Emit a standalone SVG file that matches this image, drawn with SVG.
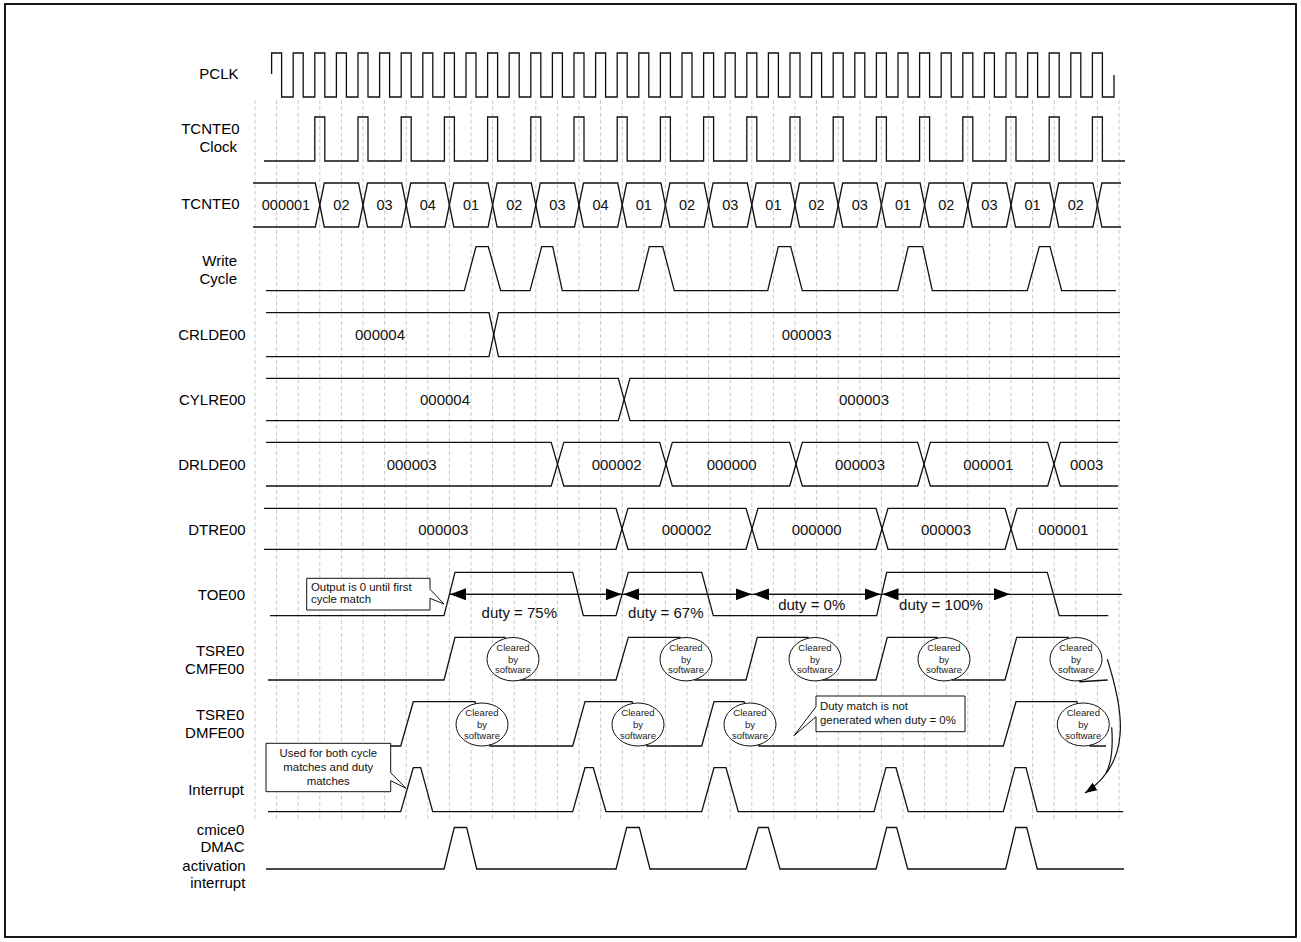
<svg xmlns="http://www.w3.org/2000/svg" width="1301" height="942" viewBox="0 0 1301 942">
<style>
.lbl{font-family:"Liberation Sans",Arial,sans-serif;font-size:15px;fill:#000;text-anchor:end}
.val{font-family:"Liberation Sans",Arial,sans-serif;font-size:15px;fill:#111;text-anchor:middle}
.cnt{font-family:"Liberation Sans",Arial,sans-serif;font-size:14.5px;fill:#111;text-anchor:middle}
.w{fill:none;stroke:#111;stroke-width:1.3;stroke-linejoin:miter}
.grid{fill:none;stroke:#bcbcbc;stroke-width:0.8;stroke-dasharray:4 2.5}
.ell{fill:#fff;stroke:#111;stroke-width:1}
.et{font-family:"Liberation Sans",Arial,sans-serif;font-size:9.5px;fill:#222;text-anchor:middle}
.co{fill:#fff;stroke:#111;stroke-width:1}
.ct{font-family:"Liberation Sans",Arial,sans-serif;font-size:11.4px;fill:#111}
.arr{fill:none;stroke:#111;stroke-width:1.2}
</style>
<defs>
<marker id="ah" viewBox="0 0 16 12" refX="16" refY="6" markerWidth="16" markerHeight="12" markerUnits="userSpaceOnUse" orient="auto-start-reverse"><path d="M0,0 L16,6 L0,12 Z" fill="#000"/></marker>
<marker id="ah2" viewBox="0 0 12 9" refX="12" refY="4.5" markerWidth="12" markerHeight="9" markerUnits="userSpaceOnUse" orient="auto"><path d="M0,0 L12,4.5 L0,9 Z" fill="#000"/></marker>
</defs>
<rect x="5" y="4" width="1291" height="933" fill="#fff" stroke="#000" stroke-width="1.8"/>
<g id="grid">
<path class="grid" d="M255,100V820M276.6,100V820M298.2,100V820M319.8,100V820M341.4,100V820M363,100V820M384.6,100V820M406.2,100V820M427.8,100V820M449.4,100V820M471,100V820M492.6,100V820M514.2,100V820M535.8,100V820M557.4,100V820M579,100V820M600.6,100V820M622.2,100V820M643.8,100V820M665.4,100V820M687,100V820M708.6,100V820M730.2,100V820M751.8,100V820M773.4,100V820M795,100V820M816.6,100V820M838.2,100V820M859.8,100V820M881.4,100V820M903,100V820M924.6,100V820M946.2,100V820M967.8,100V820M989.4,100V820M1011,100V820M1032.6,100V820M1054.2,100V820M1075.8,100V820M1097.4,100V820M1119,100V820"/>
</g>
<g id="pclk">
<text class="lbl" x="238.5" y="78.5">PCLK</text>
<path class="w" d="M271.6,74 V53 H281.6 V97 H293.2 V53 H303.2 V97 H314.8 V53 H324.8 V97 H336.4 V53 H346.4 V97 H358 V53 H368 V97 H379.6 V53 H389.6 V97 H401.2 V53 H411.2 V97 H422.8 V53 H432.8 V97 H444.4 V53 H454.4 V97 H466 V53 H476 V97 H487.6 V53 H497.6 V97 H509.2 V53 H519.2 V97 H530.8 V53 H540.8 V97 H552.4 V53 H562.4 V97 H574 V53 H584 V97 H595.6 V53 H605.6 V97 H617.2 V53 H627.2 V97 H638.8 V53 H648.8 V97 H660.4 V53 H670.4 V97 H682 V53 H692 V97 H703.6 V53 H713.6 V97 H725.2 V53 H735.2 V97 H746.8 V53 H756.8 V97 H768.4 V53 H778.4 V97 H790 V53 H800 V97 H811.6 V53 H821.6 V97 H833.2 V53 H843.2 V97 H854.8 V53 H864.8 V97 H876.4 V53 H886.4 V97 H898 V53 H908 V97 H919.6 V53 H929.6 V97 H941.2 V53 H951.2 V97 H962.8 V53 H972.8 V97 H984.4 V53 H994.4 V97 H1006 V53 H1016 V97 H1027.6 V53 H1037.6 V97 H1049.2 V53 H1059.2 V97 H1070.8 V53 H1080.8 V97 H1092.4 V53 H1102.4 V97 H1114 V75"/>
</g>
<g id="tcnte0-clock">
<text class="lbl" x="239.5" y="133.5">TCNTE0</text>
<text class="lbl" x="237" y="151.5">Clock</text>
<path class="w" d="M264,161 H314.8 V117 H324.8 V161 H358 V117 H368 V161 H401.2 V117 H411.2 V161 H444.4 V117 H454.4 V161 H487.6 V117 H497.6 V161 H530.8 V117 H540.8 V161 H574 V117 H584 V161 H617.2 V117 H627.2 V161 H660.4 V117 H670.4 V161 H703.6 V117 H713.6 V161 H746.8 V117 H756.8 V161 H790 V117 H800 V161 H833.2 V117 H843.2 V161 H876.4 V117 H886.4 V161 H919.6 V117 H929.6 V161 H962.8 V117 H972.8 V161 H1006 V117 H1016 V161 H1049.2 V117 H1059.2 V161 H1092.4 V117 H1102.4 V161 H1125"/>
</g>
<g id="tcnte0">
<text class="lbl" x="239.5" y="209">TCNTE0</text>
<path class="w" d="M253,183 H315.3 L324.3,227 H358.5 L367.5,183 H401.7 L410.7,227 H444.9 L453.9,183 H488.1 L497.1,227 H531.3 L540.3,183 H574.5 L583.5,227 H617.7 L626.7,183 H660.9 L669.9,227 H704.1 L713.1,183 H747.3 L756.3,227 H790.5 L799.5,183 H833.7 L842.7,227 H876.9 L885.9,183 H920.1 L929.1,227 H963.3 L972.3,183 H1006.5 L1015.5,227 H1049.7 L1058.7,183 H1092.9 L1101.9,227 H1121"/>
<path class="w" d="M253,227 H315.3 L324.3,183 H358.5 L367.5,227 H401.7 L410.7,183 H444.9 L453.9,227 H488.1 L497.1,183 H531.3 L540.3,227 H574.5 L583.5,183 H617.7 L626.7,227 H660.9 L669.9,183 H704.1 L713.1,227 H747.3 L756.3,183 H790.5 L799.5,227 H833.7 L842.7,183 H876.9 L885.9,227 H920.1 L929.1,183 H963.3 L972.3,227 H1006.5 L1015.5,183 H1049.7 L1058.7,227 H1092.9 L1101.9,183 H1121"/>
<text class="cnt" x="286" y="210">000001</text>
<text class="cnt" x="341.4" y="210">02</text>
<text class="cnt" x="384.6" y="210">03</text>
<text class="cnt" x="427.8" y="210">04</text>
<text class="cnt" x="471" y="210">01</text>
<text class="cnt" x="514.2" y="210">02</text>
<text class="cnt" x="557.4" y="210">03</text>
<text class="cnt" x="600.6" y="210">04</text>
<text class="cnt" x="643.8" y="210">01</text>
<text class="cnt" x="687" y="210">02</text>
<text class="cnt" x="730.2" y="210">03</text>
<text class="cnt" x="773.4" y="210">01</text>
<text class="cnt" x="816.6" y="210">02</text>
<text class="cnt" x="859.8" y="210">03</text>
<text class="cnt" x="903" y="210">01</text>
<text class="cnt" x="946.2" y="210">02</text>
<text class="cnt" x="989.4" y="210">03</text>
<text class="cnt" x="1032.6" y="210">01</text>
<text class="cnt" x="1075.8" y="210">02</text>
</g>
<g id="write-cycle">
<text class="lbl" x="237" y="265.5">Write</text>
<text class="lbl" x="237" y="283.5">Cycle</text>
<path class="w" d="M266,290.7 H464.3 L476,246.7 H488.3 L500.7,290.7 H530 L541.7,246.7 H552.7 L562.3,290.7 H638.3 L649.3,246.7 H662.7 L674.3,290.7 H767.7 L778.3,246.7 H790.7 L802.3,290.7 H897.7 L908.3,246.7 H922.7 L932.3,290.7 H1027.3 L1039.3,246.7 H1050 L1061.7,290.7 H1116"/>
</g>
<g id="crlde00">
<text class="lbl" x="245.7" y="340">CRLDE00</text>
<path class="w" d="M266,312.7 H489 L498.5,356.7 H1120"/>
<path class="w" d="M266,356.7 H489 L498.5,312.7 H1120"/>
<text class="val" x="380" y="340">000004</text>
<text class="val" x="806.7" y="340">000003</text>
</g>
<g id="cylre00">
<text class="lbl" x="245.7" y="405">CYLRE00</text>
<path class="w" d="M266,378.3 H618.3 L630,420.7 H1120"/>
<path class="w" d="M266,420.7 H618.3 L630,378.3 H1120"/>
<text class="val" x="445" y="405">000004</text>
<text class="val" x="864" y="405">000003</text>
</g>
<g id="drlde00">
<text class="lbl" x="245.7" y="469.5">DRLDE00</text>
<path class="w" d="M266,442.3 H551.2 L563.8,486 H659.7 L672.3,442.3 H789.7 L802.3,486 H917.7 L930.3,442.3 H1047.7 L1060.3,486 H1118"/>
<path class="w" d="M266,486 H551.2 L563.8,442.3 H659.7 L672.3,486 H789.7 L802.3,442.3 H917.7 L930.3,486 H1047.7 L1060.3,442.3 H1118"/>
<text class="val" x="411.7" y="469.5">000003</text>
<text class="val" x="616.7" y="469.5">000002</text>
<text class="val" x="731.7" y="469.5">000000</text>
<text class="val" x="860" y="469.5">000003</text>
<text class="val" x="988.3" y="469.5">000001</text>
<text class="val" x="1086.7" y="469.5">0003</text>
</g>
<g id="dtre00">
<text class="lbl" x="245.7" y="534.5">DTRE00</text>
<path class="w" d="M264,508.3 H616 L628,549.3 H746 L758,508.3 H876 L888,549.3 H1005 L1017,508.3 H1118"/>
<path class="w" d="M264,549.3 H616 L628,508.3 H746 L758,549.3 H876 L888,508.3 H1005 L1017,549.3 H1118"/>
<text class="val" x="443.3" y="534.5">000003</text>
<text class="val" x="686.7" y="534.5">000002</text>
<text class="val" x="816.7" y="534.5">000000</text>
<text class="val" x="946" y="534.5">000003</text>
<text class="val" x="1063.3" y="534.5">000001</text>
</g>
<g id="toe00">
<text class="lbl" x="245" y="599.5">TOE00</text>
<path class="w" d="M270,615.7 H444 L455,572.3 H572.7 L583.3,615.7 H616 L628.3,572.3 H701.7 L713.3,615.7 H876.7 L886.7,572.3 H1047.3 L1059.3,615.7 H1108.3"/>
<text class="val" x="519.3" y="617.5">duty = 75%</text>
<text class="val" x="665.8" y="617.5">duty = 67%</text>
<text class="val" x="811.7" y="609.5">duty = 0%</text>
<text class="val" x="941" y="609.5">duty = 100%</text>
</g>
<g id="tsre0-cmfe00">
<text class="lbl" x="244.3" y="656">TSRE0</text>
<text class="lbl" x="244.3" y="674">CMFE00</text>
<path class="w" d="M268,680 H444 L455,637.3 H505 L520,680 H616 L628.3,637.3 H680 L695,680 H746 L757.3,637.3 H808 L823,680 H876 L887.3,637.3 H937 L952,680 H1005 L1016.7,637.3 H1068 L1080,681.7 L1107.7,680"/>
<ellipse class="ell" cx="513" cy="659.2" rx="26" ry="21.7"/>
<text class="et" x="513" y="651">Cleared</text><text class="et" x="513" y="662.5">by</text><text class="et" x="513" y="673.3">software</text>
<ellipse class="ell" cx="686" cy="659.2" rx="26" ry="21.7"/>
<text class="et" x="686" y="651">Cleared</text><text class="et" x="686" y="662.5">by</text><text class="et" x="686" y="673.3">software</text>
<ellipse class="ell" cx="815" cy="659.2" rx="26" ry="21.7"/>
<text class="et" x="815" y="651">Cleared</text><text class="et" x="815" y="662.5">by</text><text class="et" x="815" y="673.3">software</text>
<ellipse class="ell" cx="944" cy="659.2" rx="26" ry="21.7"/>
<text class="et" x="944" y="651">Cleared</text><text class="et" x="944" y="662.5">by</text><text class="et" x="944" y="673.3">software</text>
<ellipse class="ell" cx="1076" cy="659.2" rx="26" ry="21.7"/>
<text class="et" x="1076" y="651">Cleared</text><text class="et" x="1076" y="662.5">by</text><text class="et" x="1076" y="673.3">software</text>
</g>
<g id="tsre0-dmfe00">
<text class="lbl" x="244.3" y="720">TSRE0</text>
<text class="lbl" x="244.3" y="738">DMFE00</text>
<path class="w" d="M268,746 H400.7 L413.3,701.7 H475 L490,746 H572.7 L585,701.7 H632 L647,746 H701.7 L714,701.7 H744 L759,746 H1003.3 L1016,701.7 H1077 L1090,746 H1106"/>
<ellipse class="ell" cx="482" cy="724.5" rx="26" ry="21.5"/>
<text class="et" x="482" y="715.5">Cleared</text><text class="et" x="482" y="727.5">by</text><text class="et" x="482" y="738.5">software</text>
<ellipse class="ell" cx="638" cy="724.5" rx="26" ry="21.5"/>
<text class="et" x="638" y="715.5">Cleared</text><text class="et" x="638" y="727.5">by</text><text class="et" x="638" y="738.5">software</text>
<ellipse class="ell" cx="750" cy="724.5" rx="26" ry="21.5"/>
<text class="et" x="750" y="715.5">Cleared</text><text class="et" x="750" y="727.5">by</text><text class="et" x="750" y="738.5">software</text>
<ellipse class="ell" cx="1083.3" cy="724.5" rx="26" ry="21.5"/>
<text class="et" x="1083.3" y="715.5">Cleared</text><text class="et" x="1083.3" y="727.5">by</text><text class="et" x="1083.3" y="738.5">software</text>
</g>
<g id="interrupt">
<text class="lbl" x="244" y="795">Interrupt</text>
<path class="w" d="M268,811.7 H400.7 L413.3,767.7 H420.7 L432.7,811.7 H572.7 L585,767.7 H593.3 L606,811.7 H701.7 L714,767.7 H726 L738.3,811.7 H874 L886,767.7 H896 L908.3,811.7 H1003.3 L1015,767.7 H1026 L1037.3,811.7 H1123.3"/>
</g>
<g id="cmice0">
<text class="lbl" x="244.3" y="834.5">cmice0</text>
<text class="lbl" x="244.7" y="852">DMAC</text>
<text class="lbl" x="245.7" y="870.5">activation</text>
<text class="lbl" x="245.3" y="888">interrupt</text>
<path class="w" d="M266,869 H444 L454.3,827.5 H466.7 L476.7,869 H616 L626.7,827.5 H639.3 L650,869 H746 L758.3,827.5 H768.3 L780,869 H876 L886.7,827.5 H896.7 L907.7,869 H1005.7 L1015.7,827.5 H1026.7 L1037.3,869 H1124"/>
</g>
<g id="connectors">
<line class="arr" x1="450" y1="594.3" x2="1122" y2="594.3"/>
<line class="arr" x1="450" y1="594.3" x2="621.7" y2="594.3" marker-start="url(#ah)" marker-end="url(#ah)"/>
<line class="arr" x1="623.3" y1="594.3" x2="751.7" y2="594.3" marker-start="url(#ah)" marker-end="url(#ah)"/>
<line class="arr" x1="753.3" y1="594.3" x2="880.5" y2="594.3" marker-start="url(#ah)" marker-end="url(#ah)"/>
<line class="arr" x1="882.5" y1="594.3" x2="1010" y2="594.3" marker-start="url(#ah)" marker-end="url(#ah)"/>
<path class="arr" d="M1107.3,659.3 C1117,690 1122,715 1120,735 C1118,760 1105,780 1085,793" marker-end="url(#ah2)"/>
<path class="arr" d="M1111.7,727.3 C1113,745 1112,762 1106,773"/>
</g>
<g id="note-output">
<path class="co" d="M306.7,578.3 H430 V589.3 L444,604 L430,598.3 V610 H306.7 Z"/>
<text class="ct" x="311" y="591.3">Output is 0 until first</text>
<text class="ct" x="311" y="603">cycle match</text>
</g>
<g id="note-duty">
<path class="co" d="M816,696 H965 V731.7 H816 V716.7 L794,735.7 L816,706.7 Z"/>
<text class="ct" x="820" y="710">Duty match is not</text>
<text class="ct" x="820" y="724">generated when duty = 0%</text>
</g>
<g id="note-used">
<path class="co" d="M266,743.3 H390.7 V772.7 L406,788.3 L390.7,780.7 V791.7 H266 Z"/>
<text class="ct" x="328.3" y="757.3" text-anchor="middle">Used for both cycle</text>
<text class="ct" x="328.3" y="770.7" text-anchor="middle">matches and duty</text>
<text class="ct" x="328.3" y="785" text-anchor="middle">matches</text>
</g>
</svg>
